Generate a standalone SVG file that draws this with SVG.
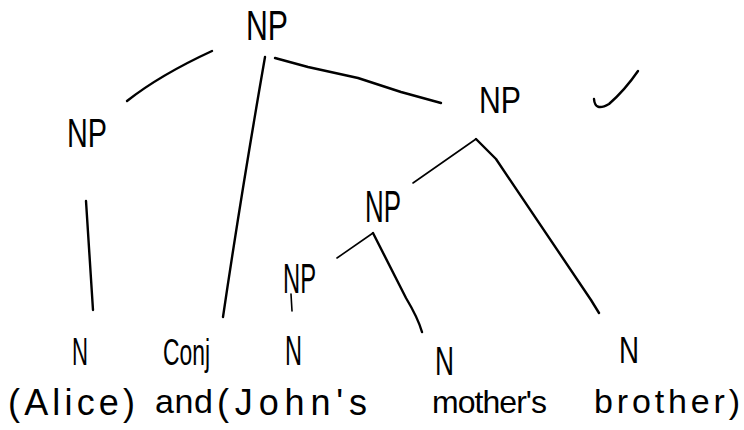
<svg xmlns="http://www.w3.org/2000/svg" width="744" height="430" viewBox="0 0 744 430">
<style>
  .lbl { font-family: "Liberation Sans Narrow", "Liberation Sans", "DejaVu Sans Condensed", sans-serif; fill: #000; }
  .edge { fill: none; stroke: #000; stroke-width: 2.4; stroke-linecap: round; stroke-linejoin: round; }
  .thin { stroke-width: 1.6; }
</style>
<rect width="744" height="430" fill="#fff"/>
<g id="connectors">
  <path class="edge" d="M212,51 Q160,75 127,101"/>
  <path class="edge" d="M265,57 Q241,195 223,317"/>
  <path class="edge" d="M275,58 L308,67 L358,78 L401,92 L441,103"/>
  <path class="edge" d="M86,201 L93,310"/>
  <path class="edge thin" d="M413,183 L476,139"/>
  <path class="edge" d="M476,139 L496,159 L591,300 L599,313"/>
  <path class="edge thin" d="M337,258 L373,233"/>
  <path class="edge" d="M373,233 L406,298 Q418,318 422,332"/>
  <path class="edge thin" d="M291,294 L292,311"/>
</g>
<g id="np-root"><text class="lbl" x="246" y="40" font-size="42" textLength="42" lengthAdjust="spacingAndGlyphs">NP</text></g>
<g id="np-left"><text class="lbl" x="67" y="147" font-size="40" textLength="40" lengthAdjust="spacingAndGlyphs">NP</text></g>
<g id="np-right"><text class="lbl" x="479" y="113" font-size="36" textLength="42" lengthAdjust="spacingAndGlyphs">NP</text></g>
<g id="np-mid"><text class="lbl" x="365" y="222" font-size="44" textLength="36" lengthAdjust="spacingAndGlyphs">NP</text></g>
<g id="np-small"><text class="lbl" x="283" y="293" font-size="42" textLength="33" lengthAdjust="spacingAndGlyphs">NP</text></g>
<g id="n-alice">
  <text class="lbl" x="72" y="365" font-size="39" textLength="16" lengthAdjust="spacingAndGlyphs">N</text>
  <text class="lbl" x="8" y="415" font-size="36" textLength="127" lengthAdjust="spacing">(Alice)</text>
</g>
<g id="conj">
  <text class="lbl" x="163" y="365" font-size="36" textLength="47" lengthAdjust="spacingAndGlyphs">Conj</text>
  <text class="lbl" x="155" y="413" font-size="34" textLength="58" lengthAdjust="spacing">and</text>
</g>
<g id="n-john">
  <text class="lbl" x="285" y="365" font-size="42" textLength="17" lengthAdjust="spacingAndGlyphs">N</text>
  <text class="lbl" x="217" y="415" font-size="36" textLength="150" lengthAdjust="spacing">(John's</text>
</g>
<g id="n-mother">
  <text class="lbl" x="435" y="375" font-size="40" textLength="19" lengthAdjust="spacingAndGlyphs">N</text>
  <text class="lbl" x="432" y="413" font-size="32" textLength="115" lengthAdjust="spacing">mother's</text>
</g>
<g id="n-brother">
  <text class="lbl" x="619" y="363" font-size="36" textLength="20" lengthAdjust="spacingAndGlyphs">N</text>
  <text class="lbl" x="594" y="413" font-size="34" textLength="146" lengthAdjust="spacing">brother)</text>
</g>
<g id="checkmark">
  <path class="edge" d="M594,99 Q595,112 609,104 Q625,90 638,71"/>
</g>
</svg>
